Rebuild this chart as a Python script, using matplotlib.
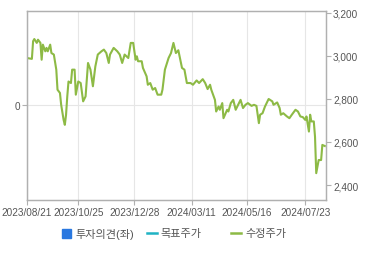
import matplotlib
matplotlib.use("Agg")
import matplotlib.pyplot as plt
from matplotlib.patches import Rectangle
from matplotlib.lines import Line2D

plt.rcParams['font.family'] = ['Liberation Sans', 'Noto Sans CJK KR', 'DejaVu Sans']

# trading-day index -> adjusted price
days = [0, 4, 5, 6, 8, 9, 11, 12, 13, 15, 16, 17, 19, 20, 22, 24, 25, 27, 28, 30,
        31, 32, 33, 34, 36, 37, 39, 40, 42, 44, 46, 48, 50, 52, 54, 56, 58, 61, 63, 65,
        67, 68, 71, 74, 76, 78, 80, 83, 85, 87, 89, 90, 91, 94, 95, 98, 99, 101, 103, 105,
        107, 110, 111, 113, 116, 118, 120, 122, 124, 125, 127, 129, 131, 134, 136, 139, 141, 144, 146, 148,
        150, 151, 154, 155, 157, 158, 160, 161, 164, 165, 167, 169, 171, 173, 175, 177, 179, 181, 184, 186,
        188, 190, 191, 193, 195, 198, 201, 202, 205, 207, 208, 210, 213, 215, 217, 220, 222, 224, 226, 228,
        229, 231, 232, 233, 235, 236, 237, 239, 241, 242, 244]
prices = [2989, 2985, 3067, 3077, 3059, 3074, 3059, 2981, 3051, 3020, 3036, 3020, 3051, 3012, 3005, 2935, 2842, 2827, 2772, 2702,
          2679, 2726, 2811, 2880, 2873, 2935, 2935, 2819, 2880, 2873, 2788, 2811, 2966, 2935, 2858, 2950, 3005, 3020, 3028, 3012,
          2966, 3005, 3036, 3020, 3005, 2966, 3005, 2989, 3059, 3059, 2981, 2997, 2974, 2974, 2943, 2904, 2865, 2873, 2842, 2850,
          2819, 2819, 2842, 2935, 2989, 3012, 3059, 3012, 3025, 2997, 2943, 2935, 2873, 2873, 2865, 2885, 2873, 2891, 2873, 2845,
          2865, 2842, 2795, 2741, 2764, 2749, 2780, 2710, 2749, 2741, 2780, 2795, 2749, 2772, 2795, 2757, 2772, 2780, 2767, 2772,
          2767, 2687, 2726, 2733, 2764, 2799, 2788, 2772, 2783, 2757, 2726, 2733, 2718, 2710, 2726, 2749, 2741, 2718, 2715, 2702,
          2718, 2648, 2726, 2695, 2695, 2624, 2455, 2516, 2516, 2586, 2581]

tick_days = [0, 42, 88, 135, 180, 228]
tick_labels = ['2023/08/21', '2023/10/25', '2023/12/28', '2024/03/11', '2024/05/16', '2024/07/23']
price_ticks = [2400, 2600, 2800, 3000, 3200]

legend_labels = ['투자의견(좌)', '목표주가', '수정주가']
legend_colors = ['#2a78e0', '#1fb3c4', '#8dba45']

spine_c = '#b0b0b0'
text_c = '#555555'

fig = plt.figure(figsize=(3.7, 2.55), dpi=100)
ax = fig.add_axes([27 / 370, 1 - 200.7 / 255, 299 / 370, 188.7 / 255])
ax2 = ax.twinx()

ax.set_xlim(0, 245)
ax.set_ylim(-1, 1)
ax.set_yticks([0])
ax.set_yticklabels(['0'])
ax.set_xticks(tick_days)
ax.set_xticklabels(tick_labels)
ax.grid(True, color='#e6e6e6', linewidth=0.8)
ax.set_axisbelow(True)

ax2.plot(days, prices, color=legend_colors[2], linewidth=1.5)
ax2.set_ylim(2332, 3207)
ax2.set_yticks(price_ticks)
ax2.set_yticklabels([f'{v:,}' for v in price_ticks])

for a in (ax, ax2):
    for s in a.spines.values():
        s.set_color(spine_c)
        s.set_linewidth(0.9)
    a.tick_params(colors=spine_c, labelcolor=text_c, labelsize=7.2, length=3.5, width=0.8, pad=1.5)

# legend drawn by hand to match spacing
fig.patches.append(Rectangle((62.3 / 370, 1 - 238.7 / 255), 8.4 / 370, 8.7 / 255,
                             color=legend_colors[0], transform=fig.transFigure))
fig.text(75.7 / 370, 1 - 234.5 / 255, legend_labels[0], color=text_c, fontsize=8, va='center')
fig.add_artist(Line2D([147 / 370, 157 / 370], [1 - 234 / 255] * 2, color=legend_colors[1],
                      linewidth=1.8, transform=fig.transFigure))
fig.text(160 / 370, 1 - 234.5 / 255, legend_labels[1], color=text_c, fontsize=8, va='center')
fig.add_artist(Line2D([231 / 370, 241 / 370], [1 - 234 / 255] * 2, color=legend_colors[2],
                      linewidth=1.8, transform=fig.transFigure))
fig.text(245 / 370, 1 - 234.5 / 255, legend_labels[2], color=text_c, fontsize=8, va='center')

fig.savefig('out.png', dpi=100)
